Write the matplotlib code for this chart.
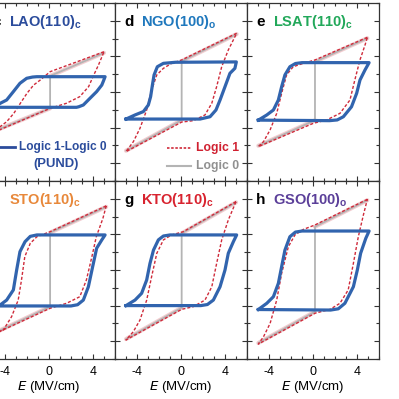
import matplotlib
matplotlib.use('Agg')
import matplotlib.pyplot as plt
from matplotlib.ticker import MultipleLocator

plt.rcParams['font.family'] = ['Liberation Sans', 'DejaVu Sans']
plt.rcParams['axes.unicode_minus'] = False
plt.rcParams['mathtext.fontset'] = 'custom'
plt.rcParams['mathtext.bf'] = 'Liberation Sans:bold'
plt.rcParams['mathtext.rm'] = 'Liberation Sans'

# ---------------- data (E in MV/cm, P in uC/cm^2) ----------------
letters = ['c', 'd', 'e', 'f', 'g', 'h']
materials = ['LAO(110)', 'NGO(100)', 'LSAT(110)', 'STO(110)', 'KTO(110)', 'GSO(100)']
subscripts = ['c', 'o', 'c', 'c', 'c', 'o']
label_colors = ['#2b4c9c', '#1f78bd', '#22a85a', '#e8883a', '#d8232f', '#5b3f99']

# PUND loop (Logic 1 - Logic 0)
lao_pund = [(-5.0, -8.6), (-4.45, -6.4), (-3.85, -4.5), (-3.24, 0.2), (-2.64, 4.9), (-2.03, 7.7),
            (-1.5, 8.4), (-1.1, 8.6), (5.1, 8.6), (4.95, 6.2), (4.8, 3.9), (4.33, 0.2), (3.73, -3.5),
            (3.12, -7.3), (2.7, -8.3), (2.5, -8.6), (-5.0, -8.6)]
ngo_pund = [(-5.0, -15.2), (-4.18, -12.9), (-3.42, -11.0), (-2.97, -7.3), (-2.76, -2.6), (-2.6, 3.9),
            (-2.45, 9.55), (-2.15, 14.2), (-1.6, 16.1), (-0.5, 16.7), (5.03, 16.9), (4.9, 13.3),
            (4.45, 10.5), (4.0, 3.0), (3.55, -4.5), (3.18, -10.1), (2.64, -13.9), (1.73, -15.2),
            (-5.0, -15.2)]
lsat_pund = [(-4.97, -15.8), (-4.2, -12.9), (-3.6, -10.1), (-3.15, -4.5), (-2.85, 3.0), (-2.55, 9.6),
             (-2.1, 14.2), (-1.6, 16.0), (-1.0, 16.5), (5.1, 16.5), (4.73, 12.4), (4.27, 6.7), (3.97, -0.7),
             (3.5, -8.3), (2.76, -13.9), (2.2, -15.7), (1.5, -16.1), (-4.97, -15.8)]
sto_pund = [(-5.0, -20.2), (-4.45, -19.7), (-3.85, -16.9), (-3.24, -11.2), (-2.94, 0.0), (-2.64, 10.3),
            (-2.18, 15.9), (-1.7, 18.9), (-1.1, 19.7), (5.1, 19.7), (4.8, 16.9), (4.33, 12.2), (3.97, 1.9),
            (3.58, -9.4), (3.12, -16.9), (2.6, -19.5), (2.0, -20.2), (-5.0, -20.2)]
kto_pund = [(-5.0, -20.0), (-4.18, -16.9), (-3.58, -13.1), (-3.12, -5.6), (-2.82, 3.7), (-2.5, 11.2),
            (-2.06, 16.9), (-1.6, 19.1), (-1.0, 19.7), (5.06, 19.7), (4.76, 15.9), (4.3, 9.4), (4.0, 0.0),
            (3.55, -9.4), (2.94, -16.9), (2.4, -19.4), (1.8, -20.0), (-5.0, -20.0)]
gso_pund = [(-4.97, -22.2), (-4.2, -18.7), (-3.6, -15.0), (-3.15, -7.5), (-2.85, 1.9), (-2.55, 11.2),
            (-2.1, 18.7), (-1.6, 21.3), (-1.0, 21.9), (5.1, 21.9), (4.8, 17.8), (4.33, 9.4), (4.03, 0.0),
            (3.67, -9.4), (2.9, -18.7), (2.3, -21.8), (1.6, -22.5), (-4.97, -22.2)]

# Logic 1 (full P-E loop)
lao_logic1 = [(5.0, 22.6), (0.1, 11.4), (-0.8, 6.7), (-1.4, 3.9), (-2.0, -0.7), (-2.6, -6.3),
              (-3.2, -12.0), (-3.85, -16.7), (-4.45, -19.5), (-5.0, -22.6), (0.1, -9.2), (1.6, -6.3),
              (2.8, -2.6), (3.6, 3.0), (4.0, 8.6), (4.5, 15.2), (5.0, 22.6)]
ngo_logic1 = [(5.06, 33.0), (0.06, 18.0), (-0.85, 16.1), (-1.6, 13.3), (-2.2, 9.6), (-2.67, 1.1),
              (-3.12, -10.1), (-3.73, -20.4), (-4.33, -27.9), (-5.0, -33.5), (0.06, -16.9), (1.12, -16.1),
              (2.18, -12.9), (2.8, -6.3), (3.24, 3.0), (3.7, 14.2), (4.3, 23.6), (5.06, 33.0)]
lsat_logic1 = [(4.94, 30.7), (0.18, 18.0), (-0.88, 16.1), (-1.8, 14.2), (-2.4, 9.6), (-2.85, -0.7),
               (-3.3, -12.0), (-3.9, -21.3), (-4.5, -27.9), (-4.97, -30.7), (0.03, -17.6), (1.24, -15.7),
               (2.45, -12.0), (3.36, -4.5), (3.8, 6.7), (4.27, 18.0), (4.73, 26.4), (4.94, 30.7)]
sto_logic1 = [(5.2, 36.0), (0.1, 21.5), (-1.1, 18.7), (-1.7, 15.0), (-2.2, 7.5), (-2.5, -5.6),
              (-2.8, -16.9), (-3.4, -26.2), (-4.15, -33.7), (-5.0, -36.0), (0.1, -21.5), (1.6, -18.7),
              (2.8, -15.0), (3.4, -5.6), (3.9, 7.5), (4.3, 18.7), (4.9, 29.0), (5.2, 36.0)]
kto_logic1 = [(5.0, 38.4), (0.2, 21.5), (-0.85, 19.7), (-1.6, 16.9), (-2.2, 9.4), (-2.67, -3.7),
              (-3.12, -16.9), (-3.73, -28.1), (-4.33, -34.6), (-5.0, -39.3), (0.06, -22.1), (1.12, -20.6),
              (2.18, -16.9), (2.8, -9.4), (3.24, 3.7), (3.7, 16.9), (4.3, 28.1), (5.0, 38.4)]
gso_logic1 = [(4.94, 39.7), (0.18, 25.3), (-0.88, 22.8), (-1.64, 19.7), (-2.24, 13.1), (-2.85, -1.9),
              (-3.3, -16.9), (-3.9, -30.0), (-4.5, -37.5), (-4.97, -41.6), (0.18, -24.3), (1.55, -22.1),
              (2.45, -18.7), (3.2, -11.2), (3.67, 3.7), (4.12, 18.7), (4.58, 30.9), (4.94, 39.7)]

# Logic 0 (non-switching response)
lao_logic0 = [(-5.0, -22.0), (0.1, -9.2), (0.1, 9.0), (5.0, 22.0)]
ngo_logic0 = [(-5.0, -33.0), (0.06, -15.8), (0.06, 17.3), (5.06, 32.5)]
lsat_logic0 = [(-4.97, -30.2), (0.18, -15.9), (0.18, 17.0), (4.94, 30.2)]
sto_logic0 = [(-5.0, -35.5), (0.1, -20.6), (0.1, 21.0), (5.2, 35.5)]
kto_logic0 = [(-5.0, -38.8), (0.06, -21.2), (0.06, 20.6), (5.0, 38.0)]
gso_logic0 = [(-4.97, -41.0), (0.18, -23.4), (0.18, 24.3), (4.94, 39.2)]

pund_loops = [lao_pund, ngo_pund, lsat_pund, sto_pund, kto_pund, gso_pund]
logic1_loops = [lao_logic1, ngo_logic1, lsat_logic1, sto_logic1, kto_logic1, gso_logic1]
logic0_lines = [lao_logic0, ngo_logic0, lsat_logic0, sto_logic0, kto_logic0, gso_logic0]

x_ticks = [-4, 0, 4]
x_tick_labels = ['-4', '0', '4']

# ---------------- figure ----------------
W = H = 399
fig = plt.figure(figsize=(W / 100, H / 100), dpi=100)

col_left = [-17, 115, 247]
col_w = 132
row_top = [3, 181]
row_h = 178

BLUE = '#3164ae'
RED = '#cf2a3a'
GRAY = '#b4b4b4'
PINK = '#f2cdd0'


def fx(px):
    return px / W


def fy(py):
    return 1 - py / H


axes = []
for i in range(6):
    r, c = divmod(i, 3)
    ax = fig.add_axes([fx(col_left[c]), fy(row_top[r] + row_h), col_w / W, row_h / H])
    axes.append(ax)
    ax.set_xlim(-6, 6)
    ax.set_ylim(-50, 50)
    ax.xaxis.set_major_locator(MultipleLocator(4))
    ax.xaxis.set_minor_locator(MultipleLocator(1))
    ax.yaxis.set_major_locator(MultipleLocator(20))
    ax.yaxis.set_minor_locator(MultipleLocator(10))
    ax.tick_params(which='both', direction='in', top=True, right=True, width=0.8, color='#333333')
    ax.tick_params(which='major', length=3.8)
    ax.tick_params(which='minor', length=2.2)
    ax.set_yticks([-40, -20, 0, 20, 40])
    ax.set_yticklabels([])
    for s in ax.spines.values():
        s.set_linewidth(0.9)
        s.set_color('#333333')
    ax.set_xticks(x_ticks)
    if r == 0:
        ax.set_xticklabels([])
    else:
        ax.set_xticklabels(x_tick_labels, fontsize=9)
        ax.tick_params(axis='x', pad=5)
        ax.set_xlabel('$\\it{E}$ (MV/cm)', fontsize=9.5, labelpad=1)

    g = logic0_lines[i]
    gx = [p[0] for p in g]
    gy = [p[1] for p in g]
    ax.plot(gx[:2], gy[:2], color=PINK, lw=3.0, solid_capstyle='round', zorder=1)
    ax.plot(gx[2:], gy[2:], color=PINK, lw=3.0, solid_capstyle='round', zorder=1)
    ax.plot(gx, gy, color=GRAY, lw=1.3, solid_capstyle='round', zorder=2)
    rl = logic1_loops[i]
    ax.plot([p[0] for p in rl], [p[1] for p in rl], color=RED, lw=1.0, dashes=(2.2, 1.4), zorder=3)
    bl = pund_loops[i]
    ax.plot([p[0] for p in bl], [p[1] for p in bl], color=BLUE, lw=2.3, solid_joinstyle='round', zorder=4)

    # panel letter + material label
    base_y = row_top[r] + 23
    x0 = col_left[c]
    fig.text(fx(x0 + 9), fy(base_y), letters[i], fontsize=11, fontweight='bold', color='black',
             va='baseline', ha='left')
    fig.text(fx(x0 + 26), fy(base_y), materials[i] + '$_\\mathbf{' + subscripts[i] + '}$',
             fontsize=10.5, fontweight='bold', color=label_colors[i], va='baseline', ha='left')

# legends
fig.add_artist(plt.Line2D([fx(-4), fx(15)], [fy(147), fy(147)], color='#2b4c9c', lw=2.0))
fig.text(fx(19), fy(147), 'Logic 1-Logic 0', fontsize=8.6, fontweight='bold', color='#2b4c9c',
         va='center', ha='left')
fig.text(fx(56), fy(164), '(PUND)', fontsize=9.4, fontweight='bold', color='#2b4c9c',
         va='center', ha='center')

fig.add_artist(plt.Line2D([fx(167), fx(191)], [fy(148), fy(148)], color=RED, lw=1.2, dashes=(1.5, 1.0)))
fig.text(fx(196), fy(148), 'Logic 1', fontsize=8.8, fontweight='bold', color='#d02030',
         va='center', ha='left')
fig.add_artist(plt.Line2D([fx(167), fx(191)], [fy(166), fy(166)], color=GRAY, lw=1.5))
fig.text(fx(196), fy(166), 'Logic 0', fontsize=8.8, fontweight='bold', color='#909090',
         va='center', ha='left')

fig.savefig('out.png', dpi=100)
